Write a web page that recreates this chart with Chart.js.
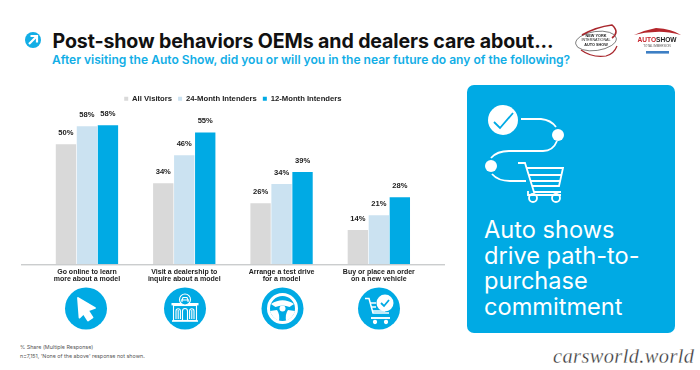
<!DOCTYPE html>
<html>
<head>
<meta charset="utf-8">
<script src="https://cdn.jsdelivr.net/npm/chart.js@4"></script>
<style>
  html, body { margin: 0; padding: 0; background: #fff; }
  body { position: relative; width: 700px; height: 370px; overflow: hidden; font-family: Inter, sans-serif; }
  .txt { position: absolute; white-space: nowrap; }
  #title { left: 52.5px; top: 27px; font-size: 19.6px; font-weight: 700; line-height: 28px; color: #111; letter-spacing: -0.12px; }
  #subtitle { left: 52px; top: 52px; font-size: 12.05px; font-weight: 600; line-height: 16px; color: #12aee6; }
  #note1, #note2 { left: 20px; font-size: 5.35px; line-height: 8px; color: #555; }
  #note1 { top: 343px; }
  #note2 { top: 352px; }
  #panel { position: absolute; left: 467px; top: 85px; width: 208px; height: 248px; border-radius: 7px; background: #00aae4; }
  #panelText { left: 484px; top: 217px; font-size: 23.6px; line-height: 25.6px; color: #fff; font-weight: 400; }
  #mark { left: 553px; top: 345px; font-family: "Liberation Serif", serif; font-style: italic; font-size: 20.4px; line-height: 22px; color: #333; letter-spacing: 0.4px; -webkit-text-stroke: 0.3px #fff; }
  #chartWrap { position: absolute; left: 0; top: 85px; width: 462px; height: 215px; }
  svg { position: absolute; left: 0; top: 0; }
</style>
</head>
<body>
<div id="panel"></div>
<div id="title" class="txt">Post-show behaviors OEMs and dealers care about...</div>
<div id="subtitle" class="txt">After visiting the Auto Show, did you or will you in the near future do any of the following?</div>
<div id="note1" class="txt">% Share (Multiple Response)</div>
<div id="note2" class="txt">n=7,151, 'None of the above' response not shown.</div>
<div id="panelText" class="txt">Auto shows<br>drive path-to-<br>purchase<br>commitment</div>
<div id="mark" class="txt">carsworld.world</div>

<div id="chartWrap"><canvas id="chart" width="462" height="215"></canvas></div>

<!-- icons and logos, not data -->
<svg width="700" height="370" viewBox="0 0 700 370">
  <circle cx="33" cy="40" r="8" fill="#12aee6"/>
  <path d="M29 44 L36 37 M30.5 36 H37 V42.5" stroke="#fff" stroke-width="2.2" fill="none"/>

  <!-- NY logo -->
  <ellipse cx="596" cy="41" rx="20.5" ry="9.5" fill="none" stroke="#333" stroke-width="0.6" transform="rotate(-8 596 41)"/>
  <path d="M582 35 Q596 27 612 25 Q620 32 612 38" fill="none" stroke="#a8262c" stroke-width="1.6"/>
  <path d="M581 50 Q592 58 606 56 Q614 54 617 46" fill="none" stroke="#a8262c" stroke-width="1.2"/>
  <text x="596" y="36.5" font-family="Liberation Sans" font-weight="700" font-size="3.8" text-anchor="middle" fill="#222">NEW YORK</text>
  <text x="596" y="41" font-family="Liberation Sans" font-size="3.7" text-anchor="middle" fill="#222">INTERNATIONAL</text>
  <text x="596" y="45.5" font-family="Liberation Sans" font-weight="700" font-size="3.8" text-anchor="middle" fill="#222">AUTO SHOW</text>
  <!-- AutoShow logo -->
  <path d="M634 35 Q645 30 656 28 Q672 29 681 35 Q665 31 655 32 Q645 32 634 35 Z" fill="#b5262c"/>
  <text x="657" y="41.5" font-family="Liberation Sans" font-weight="700" font-size="6.6" text-anchor="middle" fill="#c8222a">AUTO<tspan fill="#222">SHOW</tspan></text>
  <text x="657" y="46.5" font-family="Liberation Sans" font-size="3" text-anchor="middle" fill="#555">TOTAL IMMERSION</text>
  <rect x="646" y="51" width="23" height="2.6" fill="#3d7fc4"/>

  <!-- icons under the categories -->
  <g fill="#00aae4">
    <circle cx="86" cy="308.5" r="21"/>
    <circle cx="185" cy="308.5" r="21"/>
    <circle cx="282.5" cy="308.5" r="21"/>
    <circle cx="379" cy="308.5" r="21"/>
  </g>
  <path d="M78 298 L95 308 L88 310.5 L92.5 317.5 L88 320.5 L83.5 313.5 L79.5 317.5 Z" fill="#fff" stroke="#fff" stroke-width="1.8" stroke-linejoin="round"/>
  <g fill="none" stroke="#fff" stroke-width="1.1">
    <rect x="171.5" y="303" width="27" height="2.4" fill="#fff" stroke="none"/>
    <rect x="173.5" y="305.5" width="23" height="15"/>
    <circle cx="185" cy="299.5" r="5.5" fill="#00aae4"/>
    <path d="M181 300 H189 M182 302 V300 L183 297.5 H187 L188 300 V302"/>
    <path d="M172 321 H198" stroke-width="1.6"/>
    <path d="M176 319 V311 A2.2 2.2 0 0 1 180.4 311 V319 M189.6 319 V311 A2.2 2.2 0 0 1 194 311 V319 M182.5 321 V311 A2.5 2.5 0 0 1 187.5 311 V321"/>
    <path d="M178.2 310 V319 M191.8 310 V319"/>
  </g>
  <g fill="none" stroke="#fff">
    <circle cx="282.5" cy="308.5" r="14" stroke-width="3"/>
    <path d="M271 304 Q282.5 296.5 294 304 L289.5 307 Q282.5 304 275.5 307 Z" fill="#fff" stroke="none"/>
    <path d="M270 311 L277 310 Q280 314 279 321 Q272 318 270 311 Z" fill="#fff" stroke="none"/>
    <path d="M295 311 L288 310 Q285 314 286 321 Q293 318 295 311 Z" fill="#fff" stroke="none"/>
  </g>
  <circle cx="282.5" cy="308.5" r="3" fill="#fff"/>
  <g fill="none" stroke="#fff" stroke-width="1.5">
    <path d="M365 298.5 H369 L373 313 H389"/>
    <path d="M370 303 H376 M371 307 H376 M372 311 H385"/>
    <path d="M371 318 H390" stroke-width="1.9"/>
    <circle cx="375" cy="322" r="1.4" fill="#fff"/>
    <circle cx="386" cy="322" r="1.4" fill="#fff"/>
  </g>
  <circle cx="385" cy="303" r="8.5" fill="#fff"/>
  <path d="M381 303 L384 306 L389 300" fill="none" stroke="#00aae4" stroke-width="1.8"/>

  <!-- path-to-purchase icon -->
  <circle cx="503" cy="120" r="15" fill="#fff"/>
  <path d="M494 122 L500 128 L513 113" fill="none" stroke="#00aae4" stroke-width="1.8"/>
  <g fill="none" stroke="#fff" stroke-width="1.8">
    <path d="M521 119 H541 Q551 120 556 127"/>
    <path d="M557 141 Q553 151 543 151 H509 Q497 151 491 158"/>
    <path d="M492 174 Q498 181 510 181 H526"/>
    <path d="M518 163 H525 L534 192 H561"/>
    <path d="M527 168 H563 L559 186 H532"/>
    <path d="M529 175 H561 M531 181 H560"/>
    <path d="M528 191 V195 H561"/>
    <circle cx="533" cy="198" r="4"/>
    <circle cx="556" cy="198" r="4"/>
  </g>
  <circle cx="558" cy="135" r="6" fill="#fff"/>
  <circle cx="491" cy="166" r="6" fill="#fff"/>
</svg>

<script>
// labels print rounded
const categories = [
  ['Go online to learn', 'more about a model'],
  ['Visit a dealership to', 'inquire about a model'],
  ['Arrange a test drive', 'for a model'],
  ['Buy or place an order', 'on a new vehicle']
];
const allVisitors = [50, 33.8, 25.5, 14.3];
const intenders24 = [57.5, 45.5, 33.5, 20.5];
const intenders12 = [58, 54.9, 38.5, 28];
const yMax = 63.2;

const labelFont = 'bold 7.6px "Liberation Sans"';

// chart.js has no built in value labels, so draw them from the bar elements
const valueLabels = {
  id: 'valueLabels',
  afterDatasetsDraw(chart) {
    const ctx = chart.ctx;
    ctx.save();
    ctx.font = labelFont;
    ctx.fillStyle = '#222';
    ctx.textAlign = 'center';
    ctx.textBaseline = 'middle';
    chart.data.datasets.forEach((ds, i) => {
      chart.getDatasetMeta(i).data.forEach((bar, j) => {
        ctx.fillText(Math.round(ds.data[j]) + '%', bar.x, bar.y - 11.5);
      });
    });
    ctx.restore();
  }
};

// the baseline runs past the first and last category
const baseline = {
  id: 'baseline',
  afterDatasetsDraw(chart) {
    const ctx = chart.ctx;
    const y = chart.scales.y.getPixelForValue(0);
    ctx.save();
    ctx.strokeStyle = '#b5b8ba';
    ctx.lineWidth = 1;
    ctx.beginPath();
    ctx.moveTo(21, y + 0.5);
    ctx.lineTo(445, y + 0.5);
    ctx.stroke();
    ctx.restore();
  }
};

new Chart(document.getElementById('chart'), {
  type: 'bar',
  data: {
    labels: categories,
    datasets: [
      { label: 'All Visitors', data: allVisitors, backgroundColor: '#d9d9d9' },
      { label: '24-Month Intenders', data: intenders24, backgroundColor: '#cbe2f1' },
      { label: '12-Month Intenders', data: intenders12, backgroundColor: '#00aae4' }
    ]
  },
  options: {
    responsive: false,
    animation: false,
    datasets: { bar: { categoryPercentage: 0.647, barPercentage: 0.97 } },
    layout: { padding: { left: 38.3, right: 34.5, top: 4, bottom: 0 } },
    plugins: {
      tooltip: { enabled: false },
      legend: {
        position: 'top',
        labels: {
          font: { family: 'Liberation Sans', size: 7.7, weight: 'bold' },
          color: '#222',
          boxWidth: 4,
          boxHeight: 4,
          padding: 6
        }
      }
    },
    scales: {
      x: {
        grid: { display: false, drawTicks: false },
        border: { display: false },
        afterFit(scale) { scale.height = 35.7; },
        ticks: {
          font: { family: 'Liberation Sans', size: 7, weight: 'bold', lineHeight: 1.05 },
          color: '#222',
          padding: 4,
          maxRotation: 0,
          autoSkip: false
        }
      },
      y: {
        display: false,
        min: 0,
        max: yMax
      }
    }
  },
  plugins: [valueLabels, baseline]
});
</script>
</body>
</html>
